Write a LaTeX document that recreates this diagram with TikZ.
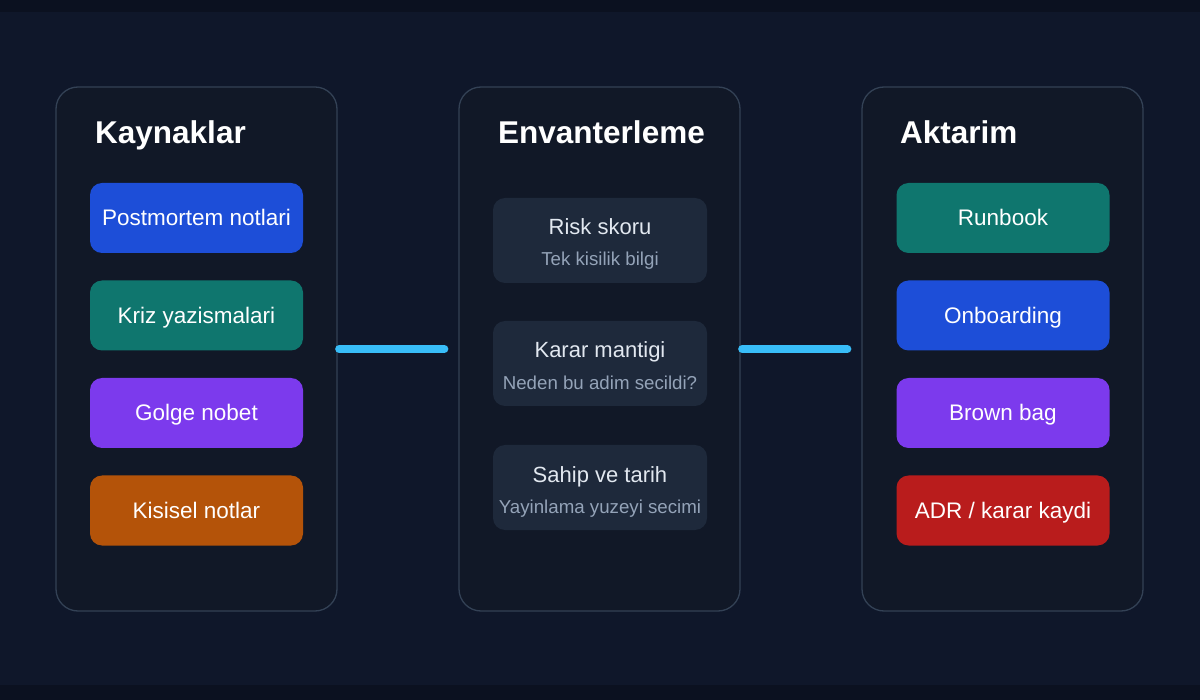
\documentclass[tikz,border=0pt]{standalone}
\usepackage{fontspec}
\setmainfont{Liberation Sans}
\definecolor{bgc}{HTML}{0F172A}
\definecolor{bandc}{HTML}{0B1120}
\definecolor{panelc}{HTML}{111827}
\definecolor{panelb}{HTML}{334155}
\definecolor{cardc}{HTML}{1E293B}
\definecolor{bluec}{HTML}{1D4ED8}
\definecolor{tealc}{HTML}{0F766E}
\definecolor{purpc}{HTML}{7C3AED}
\definecolor{orngc}{HTML}{B45309}
\definecolor{redc}{HTML}{B91C1C}
\definecolor{linec}{HTML}{38BDF8}
\definecolor{ttl}{HTML}{E2E8F0}
\definecolor{subc}{HTML}{94A3B8}
\begin{document}
\begin{tikzpicture}[x=1pt,y=-1pt,
  panel/.style={draw=panelb,line width=1.3pt,fill=panelc,rounded corners=22pt,minimum width=281pt,minimum height=524pt,inner sep=0pt},
  ptitle/.style={anchor=base west,text=white,font=\fontsize{31.5}{36}\selectfont\bfseries,inner sep=0pt},
  colbox/.style={rounded corners=12pt,minimum width=213pt,minimum height=70pt,inner sep=0pt,text=white,font=\fontsize{22.5}{26}\selectfont,text height=16pt,text depth=0pt},
  card/.style={fill=cardc,rounded corners=12pt,minimum width=214pt,minimum height=85pt,inner sep=0pt},
  ctitle/.style={anchor=base,text=ttl,font=\fontsize{22}{26}\selectfont,inner sep=0pt},
  csub/.style={anchor=base,text=subc,font=\fontsize{18.7}{22}\selectfont,inner sep=0pt},
  conn/.style={draw=linec,line width=8pt,line cap=round,shorten <=1.5pt,shorten >=14pt}
]
\useasboundingbox (0,0) rectangle (1200,700);
\fill[bgc] (0,0) rectangle (1200,700);
\fill[bandc] (0,0) rectangle (1200,12);
\fill[bandc] (0,685) rectangle (1200,700);

\node[panel] (p1) at (196.5,349) {};
\node[panel] (p2) at (599.5,349) {};
\node[panel] (p3) at (1002.5,349) {};

\node[ptitle] (t1) at (95,144) {Kaynaklar};
\node[ptitle] (t2) at (498,144) {Envanterleme};
\node[ptitle] (t3) at (900,144) {Aktarim};

\node[colbox,fill=bluec] (a1) at (196.5,218) {Postmortem notlari};
\node[colbox,fill=tealc] (a2) at (196.5,315.5) {Kriz yazismalari};
\node[colbox,fill=purpc] (a3) at (196.5,413) {Golge nobet};
\node[colbox,fill=orngc] (a4) at (196.5,510.5) {Kisisel notlar};

\node[card] (m1) at (600,240.5) {};
\node[ctitle] (m1t) at (600,235) {Risk skoru};
\node[csub] (m1s) at (600,266) {Tek kisilik bilgi};
\node[card] (m2) at (600,363.5) {};
\node[ctitle] (m2t) at (600,358) {Karar mantigi};
\node[csub] (m2s) at (600,389.5) {Neden bu adim secildi?};
\node[card] (m3) at (600,487.5) {};
\node[ctitle] (m3t) at (600,482.5) {Sahip ve tarih};
\node[csub] (m3s) at (600,513) {Yayinlama yuzeyi secimi};

\node[colbox,fill=tealc] (b1) at (1003,218) {Runbook};
\node[colbox,fill=bluec] (b2) at (1003,315.5) {Onboarding};
\node[colbox,fill=purpc] (b3) at (1003,413) {Brown bag};
\node[colbox,fill=redc] (b4) at (1003,510.5) {ADR / karar kaydi};

\draw[conn] (p1.east) -- (p2.west);
\draw[conn] (p2.east) -- (p3.west);
\end{tikzpicture}
\end{document}
